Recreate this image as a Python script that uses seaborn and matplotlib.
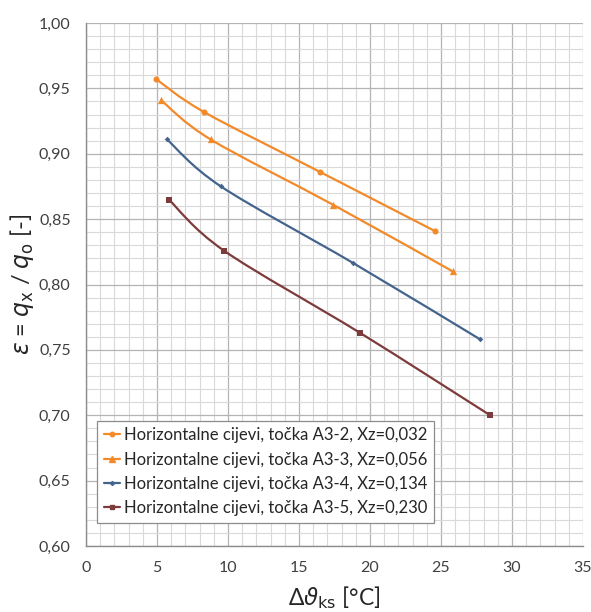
import numpy as np
import pandas as pd
import seaborn as sns
import matplotlib
matplotlib.use("Agg")
import matplotlib.pyplot as plt
from matplotlib.path import Path
from matplotlib.patches import PathPatch
from matplotlib.lines import Line2D
from matplotlib.ticker import MultipleLocator, FuncFormatter

# ---- data ----
labels = [
    "Horizontalne cijevi, točka A3-2, Xz=0,032",
    "Horizontalne cijevi, točka A3-3, Xz=0,056",
    "Horizontalne cijevi, točka A3-4, Xz=0,134",
    "Horizontalne cijevi, točka A3-5, Xz=0,230",
]
x_a32 = [4.95, 8.3, 16.5, 24.55]
y_a32 = [0.957, 0.932, 0.886, 0.841]
x_a33 = [5.28, 8.77, 17.4, 25.83]
y_a33 = [0.941, 0.911, 0.861, 0.810]
x_a34 = [5.7, 9.5, 18.8, 27.76]
y_a34 = [0.911, 0.875, 0.8165, 0.758]
x_a35 = [5.83, 9.7, 19.3, 28.46]
y_a35 = [0.865, 0.826, 0.763, 0.700]

xs = [x_a32, x_a33, x_a34, x_a35]
ys = [y_a32, y_a33, y_a34, y_a35]
colors = ["#F28A2A", "#F28A2A", "#44648E", "#7D3B3B"]
markers = ["o", "^", "D", "s"]
msizes = [4.0, 4.8, 2.6, 3.6]

rows = []
for lab, xx, yy in zip(labels, xs, ys):
    for a, b in zip(xx, yy):
        rows.append({"serija": lab, "x": a, "y": b})
df = pd.DataFrame(rows)

sns.set_theme(style="white")
plt.rcParams["font.family"] = ["Lato", "DejaVu Sans"]
plt.rcParams["mathtext.fontset"] = "dejavusans"

fig = plt.figure(figsize=(5.91, 6.12), dpi=100)
ax = fig.add_axes([86 / 591, 1 - 546 / 612, 497 / 591, 523 / 612])


def smooth_path(px, py):
    p = np.column_stack([px, py])
    n = len(p)
    verts = [p[0]]
    codes = [Path.MOVETO]
    for i in range(n - 1):
        p0 = p[i - 1] if i > 0 else p[i]
        p1 = p[i]
        p2 = p[i + 1]
        p3 = p[i + 2] if i + 2 < n else p[i + 1]
        c1 = p1 + (p2 - p0) / 6.0
        c2 = p2 - (p3 - p1) / 6.0
        verts += [c1, c2, p2]
        codes += [Path.CURVE4] * 3
    return Path(verts, codes)


for lab, xx, yy, c in zip(labels, xs, ys, colors):
    patch = PathPatch(smooth_path(xx, yy), facecolor="none", edgecolor=c, lw=1.6, zorder=3)
    ax.add_patch(patch)

for lab, c, m, s in zip(labels, colors, markers, msizes):
    sub = df[df["serija"] == lab]
    sns.scatterplot(data=sub, x="x", y="y", ax=ax, color=c, marker=m, s=s ** 2 * 1.2,
                    edgecolor=c, linewidth=0, zorder=4, legend=False)

ax.set_xlim(0, 35)
ax.set_ylim(0.60, 1.00)
ax.xaxis.set_major_locator(MultipleLocator(5))
ax.xaxis.set_minor_locator(MultipleLocator(1))
ax.yaxis.set_major_locator(MultipleLocator(0.05))
ax.yaxis.set_minor_locator(MultipleLocator(0.01))
ax.yaxis.set_major_formatter(FuncFormatter(lambda v, p: f"{v:.2f}".replace(".", ",")))
ax.xaxis.set_major_formatter(FuncFormatter(lambda v, p: f"{v:.0f}"))

ax.grid(which="major", color="#b4b4b4", lw=0.9, zorder=0)
ax.grid(which="minor", color="#d9d9d9", lw=0.8, zorder=0)
ax.set_axisbelow(True)
for sp in ["top", "right"]:
    ax.spines[sp].set_visible(False)
for sp in ["left", "bottom"]:
    ax.spines[sp].set_color("#8c8c8c")
    ax.spines[sp].set_linewidth(1.0)
ax.tick_params(axis="both", which="major", length=5, width=1, color="#8c8c8c",
               labelsize=11.5, labelcolor="#404040", direction="out", pad=6)
ax.tick_params(axis="both", which="minor", length=0)

ax.set_xlabel(r"Δ$\vartheta_{\mathrm{ks}}$ [°C]", fontsize=16.5, color="#262626", labelpad=6)
ax.set_ylabel(r"$\varepsilon$ = $q_{\mathrm{x}}$ / $q_{\mathrm{o}}$ [-]", fontsize=17,
              color="#262626", labelpad=2)

handles = [Line2D([0], [0], color=c, marker=m, markersize=s * 0.8, lw=1.6)
           for c, m, s in zip(colors, markers, msizes)]
leg = ax.legend(handles, labels, loc="lower left", bbox_to_anchor=(0.022, 0.044),
                borderaxespad=0, fancybox=False, framealpha=1, edgecolor="#8c8c8c",
                fontsize=12, handlelength=1.0, handletextpad=0.2, labelspacing=0.5,
                borderpad=0.4)
leg.get_frame().set_linewidth(0.9)
for t in leg.get_texts():
    t.set_color("#262626")

fig.savefig("out.png", dpi=100)
